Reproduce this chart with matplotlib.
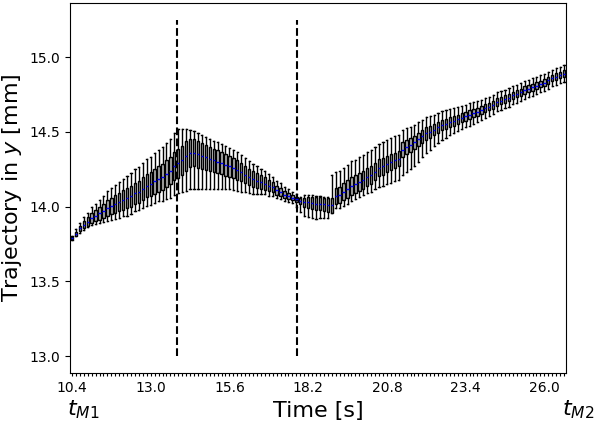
import numpy as np
import matplotlib
matplotlib.use("Agg")
import matplotlib.pyplot as plt

# ---------------- data ----------------
t_start = 10.4          # time of first box [s]
dt = 0.13               # time step between boxes [s]
label_every = 20        # one tick label every 20 boxes
tick_labels = ['10.4', '13.0', '15.6', '18.2', '20.8', '23.4', '26.0']
event_times = [13.875, 17.82]   # dashed event lines [s]
event_ymin, event_ymax = 13.0, 15.25

median = [
    13.79, 13.82, 13.855, 13.88, 13.90, 13.925, 13.94, 13.955, 13.97, 13.99,
    14.005, 14.015, 14.03, 14.045, 14.055, 14.07, 14.09, 14.10, 14.12, 14.14,
    14.15, 14.17, 14.185, 14.20, 14.22, 14.24, 14.27, 14.29, 14.31, 14.34,
    14.36, 14.36, 14.35, 14.34, 14.33, 14.32, 14.31, 14.30, 14.29, 14.28,
    14.27, 14.26, 14.245, 14.23, 14.215, 14.20, 14.185, 14.175, 14.165, 14.155,
    14.14, 14.13, 14.11, 14.10, 14.08, 14.07, 14.06, 14.05, 14.035, 14.03,
    14.03, 14.025, 14.02, 14.02, 14.015, 14.01, 14.01, 14.07, 14.08, 14.10,
    14.12, 14.14, 14.15, 14.165, 14.18, 14.20, 14.215, 14.235, 14.26, 14.27,
    14.285, 14.30, 14.31, 14.32, 14.38, 14.40, 14.41, 14.43, 14.45, 14.47,
    14.49, 14.50, 14.515, 14.53, 14.545, 14.555, 14.565, 14.575, 14.585, 14.595,
    14.605, 14.615, 14.625, 14.635, 14.645, 14.66, 14.67, 14.68, 14.70, 14.71,
    14.72, 14.73, 14.745, 14.755, 14.765, 14.78, 14.79, 14.80, 14.81, 14.82,
    14.83, 14.845, 14.86, 14.87, 14.88, 14.89,
]

box_half = [
    0.008, 0.014, 0.019, 0.024, 0.028, 0.033, 0.038, 0.042, 0.047, 0.052,
    0.056, 0.060, 0.062, 0.064, 0.067, 0.069, 0.071, 0.074, 0.076, 0.078,
    0.080, 0.082, 0.085, 0.087, 0.089, 0.091, 0.094, 0.096, 0.099, 0.100,
    0.094, 0.090, 0.088, 0.085, 0.083, 0.081, 0.078, 0.076, 0.074, 0.072,
    0.069, 0.067, 0.064, 0.061, 0.058, 0.055, 0.052, 0.049, 0.046, 0.041,
    0.036, 0.033, 0.030, 0.027, 0.024, 0.020, 0.018, 0.016, 0.020, 0.030,
    0.038, 0.042, 0.045, 0.045, 0.045, 0.045, 0.050, 0.055, 0.055, 0.058,
    0.060, 0.060, 0.060, 0.060, 0.060, 0.060, 0.060, 0.058, 0.056, 0.055,
    0.055, 0.054, 0.052, 0.050, 0.050, 0.048, 0.047, 0.046, 0.045, 0.044,
    0.042, 0.040, 0.038, 0.036, 0.035, 0.034, 0.033, 0.032, 0.031, 0.030,
    0.030, 0.029, 0.028, 0.028, 0.027, 0.027, 0.026, 0.026, 0.026, 0.025,
    0.025, 0.025, 0.024, 0.024, 0.024, 0.024, 0.023, 0.023, 0.023, 0.022,
    0.022, 0.022, 0.022, 0.021, 0.021, 0.021,
]

whisker_up = [
    0.012, 0.028, 0.038, 0.048, 0.057, 0.070, 0.080, 0.088, 0.100, 0.112,
    0.122, 0.130, 0.137, 0.143, 0.148, 0.155, 0.162, 0.167, 0.172, 0.180,
    0.185, 0.190, 0.195, 0.200, 0.205, 0.212, 0.220, 0.230, 0.210, 0.180,
    0.150, 0.145, 0.140, 0.140, 0.135, 0.135, 0.130, 0.130, 0.130, 0.128,
    0.125, 0.122, 0.120, 0.115, 0.110, 0.105, 0.100, 0.095, 0.090, 0.083,
    0.077, 0.070, 0.064, 0.058, 0.052, 0.046, 0.040, 0.035, 0.030, 0.045,
    0.050, 0.050, 0.050, 0.050, 0.050, 0.055, 0.200, 0.160, 0.160, 0.160,
    0.160, 0.165, 0.165, 0.165, 0.165, 0.165, 0.165, 0.165, 0.160, 0.160,
    0.160, 0.160, 0.160, 0.160, 0.130, 0.125, 0.120, 0.118, 0.115, 0.112,
    0.110, 0.105, 0.100, 0.097, 0.094, 0.091, 0.088, 0.085, 0.082, 0.080,
    0.078, 0.076, 0.074, 0.072, 0.070, 0.068, 0.066, 0.065, 0.064, 0.063,
    0.063, 0.062, 0.062, 0.061, 0.060, 0.060, 0.060, 0.059, 0.058, 0.058,
    0.057, 0.057, 0.056, 0.056, 0.055, 0.055,
]

whisker_down = [
    0.010, 0.019, 0.028, 0.033, 0.038, 0.047, 0.056, 0.065, 0.075, 0.085,
    0.095, 0.100, 0.105, 0.110, 0.115, 0.120, 0.120, 0.125, 0.130, 0.135,
    0.140, 0.145, 0.150, 0.160, 0.170, 0.180, 0.190, 0.200, 0.215, 0.235,
    0.240, 0.240, 0.235, 0.225, 0.215, 0.205, 0.195, 0.185, 0.175, 0.165,
    0.155, 0.148, 0.140, 0.130, 0.120, 0.110, 0.100, 0.090, 0.080, 0.072,
    0.066, 0.060, 0.053, 0.047, 0.041, 0.036, 0.033, 0.050, 0.070, 0.090,
    0.100, 0.100, 0.100, 0.095, 0.090, 0.085, 0.050, 0.080, 0.090, 0.095,
    0.100, 0.100, 0.100, 0.100, 0.105, 0.110, 0.115, 0.120, 0.125, 0.130,
    0.135, 0.140, 0.140, 0.140, 0.170, 0.165, 0.160, 0.155, 0.150, 0.140,
    0.130, 0.120, 0.110, 0.105, 0.100, 0.093, 0.088, 0.084, 0.080, 0.077,
    0.074, 0.072, 0.070, 0.068, 0.066, 0.065, 0.064, 0.063, 0.062, 0.061,
    0.060, 0.060, 0.060, 0.059, 0.058, 0.058, 0.057, 0.057, 0.056, 0.056,
    0.055, 0.055, 0.055, 0.054, 0.054, 0.054,
]

# ---------------- figure ----------------
fig = plt.figure(figsize=(5.96, 4.22), dpi=100)
ax = fig.add_axes([70 / 596, 49 / 422, 496 / 596, 370 / 422])

n = len(median)
positions = np.arange(1, n + 1)
stats = []
for m, bh, wu, wd in zip(median, box_half, whisker_up, whisker_down):
    stats.append(dict(med=m, q1=m - bh, q3=m + bh,
                      whislo=m - wd, whishi=m + wu, fliers=[]))

ax.bxp(stats, positions=positions, widths=0.6, patch_artist=True,
       showfliers=False, manage_ticks=False,
       boxprops=dict(facecolor='#bdbdbd', edgecolor='black', linewidth=1.0),
       whiskerprops=dict(color='black', linewidth=1.0),
       capprops=dict(color='black', linewidth=1.0),
       medianprops=dict(color='blue', linewidth=1.0))

event_pos = [1 + (t - t_start) / dt for t in event_times]
ax.vlines(event_pos, event_ymin, event_ymax, colors='black',
          linestyles='--', linewidth=1.5)

ax.set_xlim(0.5, n + 0.5)
ax.set_ylim(12.8875, 15.3625)
ax.set_yticks([13.0, 13.5, 14.0, 14.5, 15.0])

xt_labels = [''] * n
for k, lab in enumerate(tick_labels):
    xt_labels[k * label_every] = lab
ax.set_xticks(positions)
ax.set_xticklabels(xt_labels)
ax.tick_params(axis='x', length=2.5)

ax.set_ylabel('Trajectory in $y$ [mm]', fontsize=16)
ax.set_xlabel('Time [s]', fontsize=16)
ax.text(-0.006, -0.1135, '$t_{M1}$', transform=ax.transAxes, fontsize=16,
        ha='left', va='baseline')
ax.text(0.992, -0.1135, '$t_{M2}$', transform=ax.transAxes, fontsize=16,
        ha='left', va='baseline')

fig.savefig('out.png', dpi=100)
